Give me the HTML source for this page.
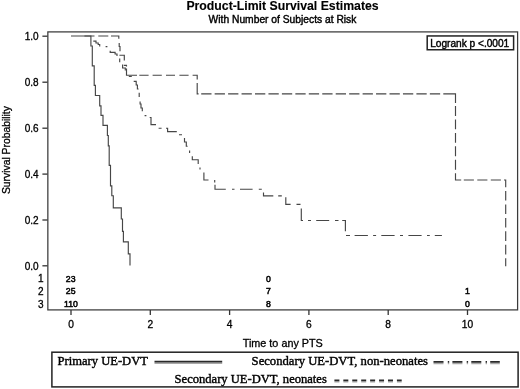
<!DOCTYPE html>
<html><head><meta charset="utf-8">
<style>
html,body{margin:0;padding:0;background:#fff;}
body{width:520px;height:389px;overflow:hidden;position:relative;}
svg{position:absolute;left:0;top:0;display:block;}
text{font-family:"Liberation Sans",Arial,sans-serif;fill:#000;stroke:#000;stroke-width:0.3px;}
#risk text{stroke-width:0.5px;}
#leg text{stroke-width:0.4px;}
.serif{font-family:"Liberation Serif","Times New Roman",serif;}
</style></head><body>
<svg width="520" height="389" viewBox="0 0 520 389">
<rect width="520" height="389" fill="#fff"/>
<!-- titles -->
<text id="t1" x="282.5" y="10.45" style="stroke-width:0.12px" font-size="12.27" font-weight="bold" text-anchor="middle">Product-Limit Survival Estimates</text>
<text id="t2" x="282.5" y="22.75" style="stroke-width:0.4px" font-size="10.28" text-anchor="middle">With Number of Subjects at Risk</text>
<!-- frame -->
<rect x="47.85" y="31.9" width="469.75" height="278" fill="none" stroke="#3a3a3a" stroke-width="1.25"/>
<!-- y ticks -->
<g stroke="#333" stroke-width="1.3">
<line x1="42.4" y1="36.2" x2="47.5" y2="36.2"/>
<line x1="42.4" y1="82.2" x2="47.5" y2="82.2"/>
<line x1="42.4" y1="128.2" x2="47.5" y2="128.2"/>
<line x1="42.4" y1="174.1" x2="47.5" y2="174.1"/>
<line x1="42.4" y1="220" x2="47.5" y2="220"/>
<line x1="42.4" y1="265.8" x2="47.5" y2="265.8"/>
<line x1="71" y1="310" x2="71" y2="315"/>
<line x1="150.3" y1="310" x2="150.3" y2="315"/>
<line x1="229.6" y1="310" x2="229.6" y2="315"/>
<line x1="308.9" y1="310" x2="308.9" y2="315"/>
<line x1="388.2" y1="310" x2="388.2" y2="315"/>
<line x1="467.5" y1="310" x2="467.5" y2="315"/>
</g>
<g font-size="10" text-anchor="end">
<text x="38.6" y="39.8">1.0</text>
<text x="38.6" y="85.8">0.8</text>
<text x="38.6" y="131.8">0.6</text>
<text x="38.6" y="177.7">0.4</text>
<text x="38.6" y="223.6">0.2</text>
<text x="38.6" y="269.8">0.0</text>
<text x="43.5" y="282.2">1</text>
<text x="43.5" y="295">2</text>
<text x="43.5" y="307.6">3</text>
</g>
<g font-size="10.2" text-anchor="middle">
<text x="71" y="328.15">0</text>
<text x="150.3" y="328.15">2</text>
<text x="229.6" y="328.15">4</text>
<text x="308.9" y="328.15">6</text>
<text x="388.2" y="328.15">8</text>
<text x="467.5" y="328.15">10</text>
</g>
<text id="xt" x="282.8" y="346.6" font-size="10.8" text-anchor="middle">Time to any PTS</text>
<text id="yt" transform="translate(10.1,150.1) rotate(-90)" font-size="10.35" text-anchor="middle">Survival Probability</text>
<!-- at risk -->
<g font-size="8.7" text-anchor="middle" id="risk">
<text x="70.7" y="281.7">23</text>
<text x="70.7" y="293.9">25</text>
<text x="71" y="306.6">110</text>
<text x="268.5" y="281.7">0</text>
<text x="268.5" y="293.9">7</text>
<text x="268.5" y="306.6">8</text>
<text x="467.3" y="293.9">1</text>
<text x="467.3" y="306.6">0</text>
</g>
<!-- logrank box -->
<rect x="427.2" y="35.95" width="86.4" height="13.8" fill="#fff" stroke="#222" stroke-width="1.5"/>
<text id="lr" x="469.7" y="46.65" font-size="10.15" style="stroke-width:0.4px" text-anchor="middle">Logrank p &lt;.0001</text>
<!-- curves -->
<g fill="none" stroke="#464646" stroke-width="1.15">
<path d="M71,36 H90.9 V46 H92.3 V65.8 H94.2 V85.4 H95.4 V95.5 H99.7 V105.8 H101 V115.4 H103 V125.4 H107.4 V135.5 H108.3 V145.8 H109.2 V165.4 H110.5 V185.8 H111.8 V195.7 H113.3 V207.9 H121.3 V219 H122.5 V231.3 H123.4 V241.8 H128.3 V253.9 H130 V265.6"/>
<path id="ld" d="M84.45,36 H94.5 M98.3,36 H108.3 M111,36 H118.8 V38.8 M119.2,43 V46.5 H120 V51.3 M119.4,55.2 H124.3 V60.4 M123.8,65.3 H126.5 V66.6 M126.5,68.5 V75.2 H137 M139.3,75.2 H148.6 M152.6,75.2 H161.8 M166,75.2 H175 M179.4,75.2 H188.6 M192.6,75.2 H197.2 V79.6 M197.2,83 V93.9 H198.6 M201.2,93.9 H211.5 M214.65,93.9 H224.95 M228.1,93.9 H238.4 M241.55,93.9 H251.85 M255,93.9 H265.3 M268.45,93.9 H278.75 M281.9,93.9 H292.2 M295.35,93.9 H305.65 M308.8,93.9 H319.1 M322.25,93.9 H332.55 M335.7,93.9 H346 M349.15,93.9 H359.45 M362.6,93.9 H372.9 M376.05,93.9 H386.35 M389.5,93.9 H399.8 M402.95,93.9 H413.25 M416.4,93.9 H426.7 M429.85,93.9 H440.15 M443.3,93.9 H455.5 V102.9 M455.5,106 V115.9 M455.5,119.45 V129.35 M455.5,132.9 V142.8 M455.5,146.35 V156.25 M455.5,159.8 V169.7 M455.5,173.3 V180 H461.2 M463.8,180 H473.9 M477.3,180 H487.4 M490.8,180 H500.9 M504,180 H505.7 V187.2 M505.7,191 V200.6 M505.7,204.45 V214.05 M505.7,217.9 V227.5 M505.7,231.35 V240.95 M505.7,244.8 V254.4 M505.7,258.25 V266.2"/>
<path id="dd" d="M93.3,41.1 H96 V43 H98.2 V44.5 H99.7 V46.6 M105.6,46.6 H107.4 M110.2,50.8 V52.4 H115.1 V54 H117 V56 M119.7,58.4 V62.3 M122.6,64.6 V68 H125.3 V70.5 M128.8,76.5 H131.8 M133.7,81.3 H136.2 V85 H137.4 V89 H138.6 M139.2,92.8 V97.1 M140.1,101.4 V104 H141 V108 H142.3 V111.3 M144.6,115.6 H146.4 M149.7,117.5 H151 V124.6 H156 M158.6,128.2 H161.6 M166,128.2 H167.6 V131.6 H176.8 M179,134.7 H182 M184.5,138 V142 H186.3 V146.2 H187.6 M189.6,150.5 V153 M192.3,156.2 V159.7 H198.2 V163.9 M200,167.5 V169.5 M203.9,172.4 V180 H208.5 M214.7,180 V182.6 M215,184.7 V189.2 H225.8 M232,189.2 H234.5 M240,189.2 H252.6 M258.8,189.2 H261.8 M263.5,192.5 V195.8 H273.3 M278.2,195.8 H281.8 M285.8,197.3 V204.3 H290.6 M296.5,204.3 H300.5 M301.3,208.5 V220.5 H303 M308,220.5 H311 M316.2,220.5 H329.2 M335,220.5 H338.5 M342.2,220.5 H345.4 V231.2 M346,235.5 H350 M354.6,235.5 H367.9 M373.1,235.5 H376.1 M381.3,235.5 H394.6 M400,235.5 H403 M408.4,235.5 H421.6 M427,235.5 H429.8 M434.8,235.5 H441.9"/>
</g>
<!-- legend -->
<rect x="51.9" y="352.2" width="466.2" height="34.7" fill="#fff" stroke="#222" stroke-width="1.5"/>
<g id="leg" font-size="12.5">
<text class="serif" id="l1" x="57.6" y="365.1" textLength="90.3" lengthAdjust="spacingAndGlyphs">Primary UE-DVT</text>
<text class="serif" id="l2" x="251.6" y="365.1" textLength="176.4" lengthAdjust="spacingAndGlyphs">Secondary UE-DVT, non-neonates</text>
<text class="serif" id="l3" x="174.6" y="383.2" textLength="152.2" lengthAdjust="spacingAndGlyphs">Secondary UE-DVT, neonates</text>
</g>
<g fill="none">
<line x1="154.5" y1="363.3" x2="222.2" y2="363.3" stroke="#a8a8a8" stroke-width="1.4"/>
<line x1="154.5" y1="361.7" x2="222.2" y2="361.7" stroke="#2a2a2a" stroke-width="1.7"/>
<line x1="433.5" y1="363.5" x2="499.8" y2="363.5" stroke="#a8a8a8" stroke-width="1.4" stroke-dasharray="10 4.3 1.4 3.2"/>
<line x1="433.5" y1="361.9" x2="499.8" y2="361.9" stroke="#2a2a2a" stroke-width="1.7" stroke-dasharray="10 4.3 1.4 3.2"/>
<line x1="334.4" y1="381.9" x2="401.7" y2="381.9" stroke="#a8a8a8" stroke-width="1.4" stroke-dasharray="5 3.93"/>
<line x1="334.4" y1="380.4" x2="401.7" y2="380.4" stroke="#2a2a2a" stroke-width="1.7" stroke-dasharray="5 3.93"/>
</g>
</svg>
</body></html>
